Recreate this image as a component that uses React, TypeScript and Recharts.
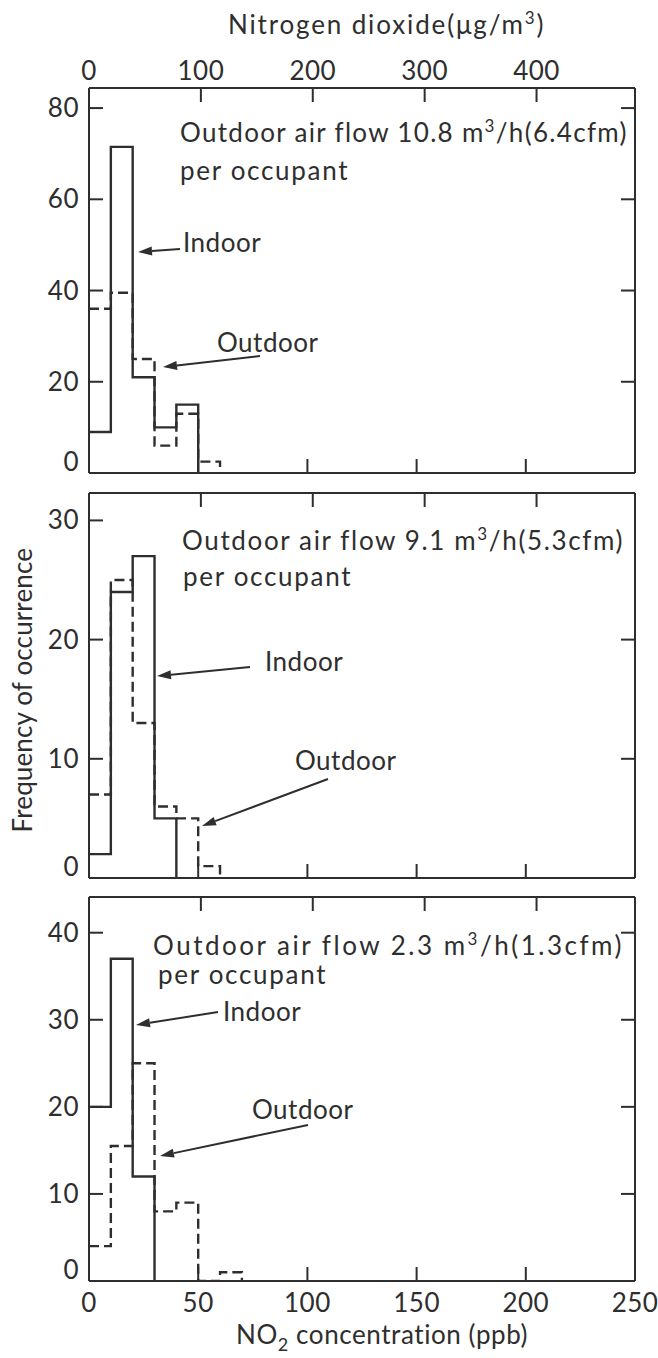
import { LineChart, Line, XAxis, YAxis } from 'recharts';

const FONT = 'Lato, "Open Sans", sans-serif';
const INK = '#2e2e2e';
const UG_PER_PPB = 1.88;

// lower edge of each 10 ppb concentration class
const binEdges = [0, 10, 20, 30, 40, 50, 60, 70];

// 10.8 m3/h per occupant
const indoorHigh = [9, 71.5, 21, 10, 15, 0];
const outdoorHigh = [36, 39.5, 25, 6, 13, 2.5, 0];

// 9.1 m3/h per occupant
const indoorMid = [2, 24, 27, 5, 0];
const outdoorMid = [7, 25, 13, 6, 5, 1, 0];

// 2.3 m3/h per occupant
const indoorLow = [20, 37, 12, 0];
const outdoorLow = [4, 15.5, 25, 8, 9, 0, 1, 0];

const ppbTicks = [0, 50, 100, 150, 200, 250];
const ugTicks = [0, 100, 200, 300, 400];
const freqTicksHigh = [0, 20, 40, 60, 80];
const freqTicksMid = [0, 10, 20, 30];
const freqTicksLow = [0, 10, 20, 30, 40];
const rightTicksHigh = [20, 40, 60, 80];
const rightTicksMid = [10, 20];
const rightTicksLow = [10, 20, 30, 40];

const toRows = (indoor: number[], outdoor: number[]) =>
  binEdges.slice(0, Math.max(indoor.length, outdoor.length)).map((x, i) => ({
    x,
    ug: x * UG_PER_PPB,
    indoor: i < indoor.length ? indoor[i] : null,
    outdoor: i < outdoor.length ? outdoor[i] : null,
  }));

const textStyle = { fontFamily: FONT, fontSize: 26, fill: INK, letterSpacing: 0.5 };

const BottomTick = (props: any) => {
  const { x, y, payload, showLabel } = props;
  const v = payload.value;
  return (
    <g>
      {v > 0 && v < 250 && <line x1={x} y1={y} x2={x} y2={y - 14} stroke={INK} strokeWidth={2} />}
      {showLabel && (
        <text x={x} y={y + 31} textAnchor="middle" style={textStyle}>
          {v}
        </text>
      )}
    </g>
  );
};

const TopTick = (props: any) => {
  const { x, y, payload, showLabel } = props;
  const v = payload.value;
  return (
    <g>
      {v > 0 && <path d={`M${x},${y} L${x},${y + 14}`} stroke={INK} strokeWidth={2} fill="none" />}
      {showLabel && (
        <text x={x} y={y - 8} textAnchor="middle" style={textStyle}>
          {v}
        </text>
      )}
    </g>
  );
};

const LeftTick = (props: any) => {
  const { x, y, payload } = props;
  const v = payload.value;
  return (
    <g>
      {v > 0 && <line x1={x} y1={y} x2={x + 14} y2={y} stroke={INK} strokeWidth={2} />}
      <text x={x - 10} y={v > 0 ? y + 9 : y - 2} textAnchor="end" style={textStyle}>
        {v}
      </text>
    </g>
  );
};

const RightTick = (props: any) => {
  const { x, y } = props;
  return <line x1={x - 14} y1={y} x2={x} y2={y} stroke={INK} strokeWidth={2} />;
};

type PanelProps = {
  top: number;
  height: number;
  margin: { top: number; right: number; bottom: number; left: number };
  topAxisHeight: number;
  bottomAxisHeight: number;
  yMax: number;
  yTicks: number[];
  rightTicks: number[];
  indoor: number[];
  outdoor: number[];
  topLabels: boolean;
  bottomLabels: boolean;
};

const Panel = (p: PanelProps) => (
  <div style={{ position: 'absolute', left: 0, top: p.top }}>
    <LineChart width={658} height={p.height} data={toRows(p.indoor, p.outdoor)} margin={p.margin}>
      <XAxis
        dataKey="x"
        type="number"
        domain={[0, 250]}
        allowDataOverflow
        ticks={ppbTicks}
        interval={0}
        height={p.bottomAxisHeight}
        tickSize={0}
        tickMargin={0}
        tickLine={false}
        axisLine={{ stroke: INK, strokeWidth: 2 }}
        tick={(t: any) => <BottomTick {...t} showLabel={p.bottomLabels} />}
      />
      <XAxis
        xAxisId="ug"
        dataKey="ug"
        orientation="top"
        type="number"
        domain={[0, 488]}
        allowDataOverflow
        ticks={ugTicks}
        interval={0}
        height={p.topAxisHeight}
        tickSize={0}
        tickMargin={0}
        tickLine={false}
        axisLine={{ stroke: INK, strokeWidth: 2 }}
        tick={(t: any) => <TopTick {...t} showLabel={p.topLabels} />}
      />
      <YAxis
        type="number"
        domain={[0, p.yMax]}
        allowDataOverflow
        ticks={p.yTicks}
        interval={0}
        width={60}
        tickSize={0}
        tickMargin={0}
        tickLine={false}
        axisLine={{ stroke: INK, strokeWidth: 2 }}
        tick={(t: any) => <LeftTick {...t} />}
      />
      <YAxis
        yAxisId="r"
        orientation="right"
        type="number"
        domain={[0, p.yMax]}
        allowDataOverflow
        ticks={p.rightTicks}
        interval={0}
        width={10}
        tickSize={0}
        tickMargin={0}
        tickLine={false}
        axisLine={{ stroke: INK, strokeWidth: 2 }}
        tick={(t: any) => <RightTick {...t} />}
      />
      <Line
        dataKey="outdoor"
        type="stepAfter"
        stroke={INK}
        strokeWidth={2.4}
        strokeDasharray="10 5"
        dot={false}
        isAnimationActive={false}
      />
      <Line
        dataKey="indoor"
        type="stepAfter"
        stroke={INK}
        strokeWidth={2.4}
        dot={false}
        isAnimationActive={false}
      />
    </LineChart>
  </div>
);

const Arrow = ({ x1, y1, x2, y2 }: { x1: number; y1: number; x2: number; y2: number }) => {
  const a = Math.atan2(y2 - y1, x2 - x1);
  const len = 14;
  const w = 4.5;
  const bx = x2 - len * Math.cos(a);
  const by = y2 - len * Math.sin(a);
  const px = -Math.sin(a) * w;
  const py = Math.cos(a) * w;
  return (
    <g>
      <line x1={x1} y1={y1} x2={bx} y2={by} stroke={INK} strokeWidth={2} />
      <polygon points={`${x2},${y2} ${bx + px},${by + py} ${bx - px},${by - py}`} fill={INK} />
    </g>
  );
};

const FlowText = ({ x, y, width, rate, cfm }: any) => (
  <text x={x} y={y} style={textStyle} textLength={width} lengthAdjust="spacing">
    Outdoor air flow {rate} m
    <tspan dy={-10} fontSize={17}>
      3
    </tspan>
    <tspan dy={10}>/h({cfm}cfm)</tspan>
  </text>
);

const Occupant = ({ x, y }: { x: number; y: number }) => (
  <text x={x} y={y} style={textStyle} textLength={168} lengthAdjust="spacing">
    per occupant
  </text>
);

const Notes = () => (
  <svg width={658} height={1358} style={{ position: 'absolute', left: 0, top: 0, pointerEvents: 'none' }}>
    <text x={228} y={34} style={textStyle} textLength={316} lengthAdjust="spacing">
      Nitrogen dioxide(μg/m
      <tspan dy={-10} fontSize={17}>
        3
      </tspan>
      <tspan dy={10}>)</tspan>
    </text>

    <FlowText x={180} y={142} width={447} rate="10.8" cfm="6.4" />
    <Occupant x={180} y={180} />
    <text x={183} y={252} style={textStyle}>Indoor</text>
    <Arrow x1={180} y1={249} x2={138} y2={252} />
    <text x={217} y={352} style={textStyle}>Outdoor</text>
    <Arrow x1={260} y1={356} x2={163} y2={367} />

    <FlowText x={182} y={550} width={441} rate="9.1" cfm="5.3" />
    <Occupant x={183} y={586} />
    <text x={265} y={671} style={textStyle}>Indoor</text>
    <Arrow x1={250} y1={667} x2={157} y2={676} />
    <text x={295} y={770} style={textStyle}>Outdoor</text>
    <Arrow x1={328} y1={779} x2={202} y2={826} />

    <FlowText x={153} y={955} width={469} rate="2.3" cfm="1.3" />
    <Occupant x={158} y={984} />
    <text x={223} y={1021} style={textStyle}>Indoor</text>
    <Arrow x1={218} y1={1012} x2={136} y2={1025} />
    <text x={252} y={1119} style={textStyle}>Outdoor</text>
    <Arrow x1={308} y1={1125} x2={160} y2={1156} />

    <text
      x={0}
      y={0}
      transform="translate(32 690) rotate(-90)"
      textAnchor="middle"
      style={textStyle}
      textLength={285}
      lengthAdjust="spacing"
    >
      Frequency of occurrence
    </text>

    <text x={236} y={1344} style={textStyle} textLength={292} lengthAdjust="spacing">
      NO
      <tspan dy={7} fontSize={18}>
        2
      </tspan>
      <tspan dy={-7}> concentration (ppb)</tspan>
    </text>
  </svg>
);

export default function App() {
  return (
    <div style={{ position: 'absolute', left: 0, top: 0, width: 658, height: 1358, background: '#fff' }}>
      <Panel
        top={0}
        height={480}
        margin={{ top: 38, right: 13, bottom: 2, left: 29 }}
        topAxisHeight={50}
        bottomAxisHeight={5}
        yMax={84.4}
        yTicks={freqTicksHigh}
        rightTicks={rightTicksHigh}
        indoor={indoorHigh}
        outdoor={outdoorHigh}
        topLabels
        bottomLabels={false}
      />
      <Panel
        top={480}
        height={405}
        margin={{ top: 5, right: 13, bottom: 2, left: 29 }}
        topAxisHeight={8}
        bottomAxisHeight={5}
        yMax={32.3}
        yTicks={freqTicksMid}
        rightTicks={rightTicksMid}
        indoor={indoorMid}
        outdoor={outdoorMid}
        topLabels={false}
        bottomLabels={false}
      />
      <Panel
        top={885}
        height={473}
        margin={{ top: 4, right: 13, bottom: 7, left: 29 }}
        topAxisHeight={8}
        bottomAxisHeight={70}
        yMax={44.1}
        yTicks={freqTicksLow}
        rightTicks={rightTicksLow}
        indoor={indoorLow}
        outdoor={outdoorLow}
        topLabels={false}
        bottomLabels
      />
      <Notes />
    </div>
  );
}
